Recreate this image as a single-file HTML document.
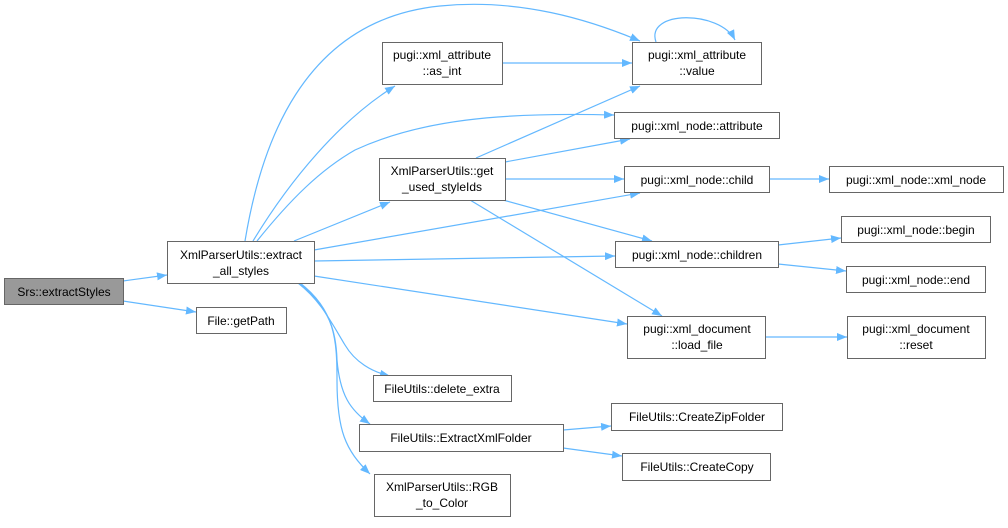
<!DOCTYPE html>
<html><head><meta charset="utf-8"><style>
html,body{margin:0;padding:0;background:#fff;}
svg{display:block;}
text{font-family:"Liberation Sans",sans-serif;font-size:12px;fill:#000;}
</style></head><body>
<svg width="1008" height="528" viewBox="0 0 1008 528" xmlns="http://www.w3.org/2000/svg">
<defs>
<marker id="a" markerWidth="10" markerHeight="8" refX="10" refY="4" orient="auto" markerUnits="userSpaceOnUse">
<path d="M0,0 L10,4 L0,8 Z" fill="#63b8ff"/>
</marker>
</defs>
<g fill="none" stroke="#63b8ff" stroke-width="1.2" marker-end="url(#a)">
<path d="M123,281 L167,275"/>
<path d="M123,301 L196,312"/>
<path d="M245,241 C260,150 300,20 440,6 C520,-2 590,20 640,41"/>
<path d="M253,241 C290,180 340,120 395,86"/>
<path d="M257,241 C290,200 320,170 355,150 C420,120 500,112 614,115"/>
<path d="M294,241 L390,202"/>
<path d="M314,250 L640,193"/>
<path d="M314,261 L615,256"/>
<path d="M314,276 L627,324"/>
<path d="M298,283 C320,300 330,320 345,345 C355,362 372,372 390,376"/>
<path d="M300,283 C330,310 336,330 337,360 C340,395 350,410 370,424"/>
<path d="M300,283 C335,310 337,340 337,380 C337,430 345,450 370,474"/>
<path d="M476,158 L640,86"/>
<path d="M505,162 L630,139"/>
<path d="M505,179 L624,179"/>
<path d="M503,200 L652,241"/>
<path d="M470,200 L662,316"/>
<path d="M502,63 L632,63"/>
<path d="M656,42 C645,10 720,10 735,40"/>
<path d="M769,179 L829,179"/>
<path d="M778,245 L841,238"/>
<path d="M778,264 L846,271"/>
<path d="M765,337 L847,337"/>
<path d="M563,430 L611,426"/>
<path d="M563,448 L622,456"/>
</g>
<g stroke="#666" stroke-width="1" fill="#fff">
<rect x="4.5" y="278.5" width="119" height="26" fill="#999"/>
<rect x="167.5" y="241.5" width="147" height="42"/>
<rect x="196.5" y="307.5" width="90" height="26"/>
<rect x="382.5" y="42.5" width="120" height="42"/>
<rect x="379.5" y="158.5" width="126" height="42"/>
<rect x="373.5" y="375.5" width="138" height="26"/>
<rect x="359.5" y="424.5" width="204" height="27"/>
<rect x="374.5" y="474.5" width="136" height="42"/>
<rect x="632.5" y="42.5" width="129" height="42"/>
<rect x="614.5" y="112.5" width="165" height="26"/>
<rect x="624.5" y="166.5" width="145" height="26"/>
<rect x="829.5" y="166.5" width="174" height="26"/>
<rect x="841.5" y="216.5" width="149" height="26"/>
<rect x="846.5" y="266.5" width="139" height="26"/>
<rect x="615.5" y="241.5" width="163" height="26"/>
<rect x="627.5" y="316.5" width="138" height="42"/>
<rect x="847.5" y="316.5" width="138" height="42"/>
<rect x="611.5" y="403.5" width="171" height="27"/>
<rect x="622.5" y="453.5" width="148" height="27"/>
</g>
<g text-anchor="middle">
<text x="64" y="296">Srs::extractStyles</text>
<text x="241" y="259">XmlParserUtils::extract</text>
<text x="241" y="275">_all_styles</text>
<text x="241" y="325">File::getPath</text>
<text x="442" y="59">pugi::xml_attribute</text>
<text x="442" y="75">::as_int</text>
<text x="442" y="175">XmlParserUtils::get</text>
<text x="442" y="191">_used_styleIds</text>
<text x="442" y="393">FileUtils::delete_extra</text>
<text x="461" y="442">FileUtils::ExtractXmlFolder</text>
<text x="442" y="491">XmlParserUtils::RGB</text>
<text x="442" y="507">_to_Color</text>
<text x="697" y="59">pugi::xml_attribute</text>
<text x="697" y="75">::value</text>
<text x="697" y="130">pugi::xml_node::attribute</text>
<text x="697" y="184">pugi::xml_node::child</text>
<text x="916" y="184">pugi::xml_node::xml_node</text>
<text x="916" y="234">pugi::xml_node::begin</text>
<text x="916" y="284">pugi::xml_node::end</text>
<text x="697" y="259">pugi::xml_node::children</text>
<text x="697" y="333">pugi::xml_document</text>
<text x="697" y="349">::load_file</text>
<text x="916" y="333">pugi::xml_document</text>
<text x="916" y="349">::reset</text>
<text x="697" y="421">FileUtils::CreateZipFolder</text>
<text x="697" y="471">FileUtils::CreateCopy</text>
</g>
</svg>
</body></html>
